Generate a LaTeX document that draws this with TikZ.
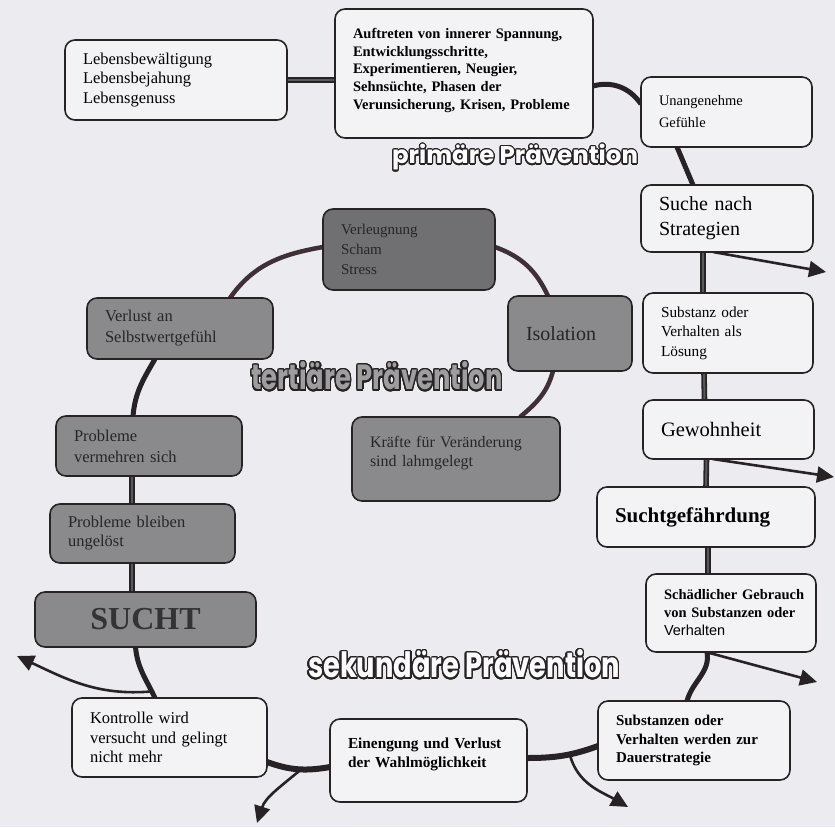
\documentclass[tikz,border=0pt]{standalone}
\usepackage{fontspec}
\setmainfont{Liberation Serif}
\newfontfamily\arialf{Liberation Sans}
\newfontfamily\labfont{Poppins}
\usepackage{contour}
\usetikzlibrary{arrows.meta,calc}
\definecolor{bg}{RGB}{236,236,240}
\definecolor{boxw}{RGB}{243,243,246}
\definecolor{lc}{RGB}{38,34,38}
\definecolor{rc}{RGB}{62,48,54}
\definecolor{gfill}{RGB}{138,138,140}
\definecolor{gdark}{RGB}{112,112,114}
\contourlength{1.2pt}
\contournumber{24}
\pgfdeclarelayer{bgl}\pgfdeclarelayer{back}\pgfsetlayers{bgl,back,main}
\tikzset{
 wbox/.style={draw=lc, line width=1.6pt, rounded corners=10pt, fill=boxw, inner sep=0pt, outer sep=0pt, align=left, text=black},
 gbox/.style={wbox, fill=gfill, text=black!85},
 conn/.style={draw=lc, line width=5pt},
 dconn/.style={draw=lc, line width=1.8pt, double=black!65, double distance=2pt},
 ring/.style={draw=rc, line width=4.5pt},
 arr/.style={draw=lc, line width=2.6pt, -{Triangle[length=17pt,width=16pt]}},
 lab/.style={inner sep=0pt},
}
\newcommand\mybox[7]{%
  \pgfmathsetmacro\bw{#4-#2}\pgfmathsetmacro\bh{#5-#3}\pgfmathsetmacro\tw{#4-#2-36}%
  \node[#6, minimum width=\bw pt, minimum height=\bh pt, text width=\tw pt] (#1) at ({(#2+#4)/2},{(#3+#5)/2}) {#7};}
\begin{document}
\begin{tikzpicture}[x=1pt,y=-1pt]
\useasboundingbox (0,0) rectangle (835,827);
\begin{pgfonlayer}{bgl}
\fill[bg] (0,0) rectangle (835,827);
\end{pgfonlayer}

% boxes
\mybox{c1}{65}{40}{287}{120}{wbox,font=\fontsize{16.5}{19.5}\selectfont}{\mbox{Lebensbewältigung}\\\mbox{Lebensbejahung}\\\mbox{Lebensgenuss}}
\mybox{c2}{335}{9}{593}{138}{wbox,font=\bfseries\fontsize{14.5}{17.7}\selectfont}{\mbox{Auftreten von innerer Spannung,}\\\mbox{Entwicklungsschritte,}\\\mbox{Experimentieren, Neugier,}\\\mbox{Sehnsüchte, Phasen der}\\\mbox{Verunsicherung, Krisen, Probleme}\\[-8pt]\mbox{}}
\mybox{c3}{641}{77}{812}{147}{wbox,font=\fontsize{14.5}{22}\selectfont}{\mbox{Unangenehme}\\\mbox{Gefühle}}
\mybox{c4}{641}{185}{813}{252}{wbox,font=\fontsize{20}{25}\selectfont}{\mbox{Suche nach}\\\mbox{Strategien}}
\mybox{c5}{643}{293}{813}{373}{wbox,font=\fontsize{15.3}{19.5}\selectfont}{\mbox{Substanz oder}\\\mbox{Verhalten als}\\\mbox{Lösung}}
\mybox{c6}{643}{400}{814}{459}{wbox,font=\fontsize{20.5}{24}\selectfont}{\mbox{Gewohnheit}}
\mybox{c7}{597}{487}{815}{547}{wbox,font=\bfseries\fontsize{21}{25}\selectfont}{\mbox{Suchtgefährdung}}
\mybox{c8}{646}{574}{816}{652}{wbox,font=\bfseries\fontsize{14.5}{18}\selectfont}{\mbox{Schädlicher Gebrauch}\\\mbox{von Substanzen oder}\\\mbox{\arialf\mdseries Verhalten}}
\mybox{c9}{598}{701}{790}{780}{wbox,font=\bfseries\fontsize{15}{18.5}\selectfont}{\mbox{Substanzen oder}\\\mbox{Verhalten werden zur}\\\mbox{Dauerstrategie}}
\mybox{c10}{330}{719}{527}{802}{wbox,font=\bfseries\fontsize{15.3}{19}\selectfont}{\mbox{Einengung und Verlust}\\\mbox{der Wahlmöglichkeit}\\[-4pt]\mbox{}}
\mybox{c11}{72}{698}{267}{777}{wbox,font=\fontsize{16.5}{19.5}\selectfont}{\mbox{Kontrolle wird}\\\mbox{versucht und gelingt}\\\mbox{nicht mehr}}
\mybox{c12}{35}{592}{256}{647}{gbox,align=center,text=black!80,font=\bfseries\fontsize{32}{36}\selectfont}{SUCHT}
\mybox{c13}{50}{504}{235}{563}{gbox,font=\fontsize{16.5}{19}\selectfont}{\mbox{Probleme bleiben}\\\mbox{ungelöst}}
\mybox{c14}{56}{416}{242}{476}{gbox,font=\fontsize{16.5}{21}\selectfont}{\mbox{Probleme}\\\mbox{vermehren sich}}
\mybox{c15}{87}{298}{273}{359}{gbox,font=\fontsize{16.5}{21}\selectfont}{\mbox{Verlust an}\\\mbox{Selbstwertgefühl}}
\mybox{c16}{323}{209}{495}{290}{gbox,fill=gdark,font=\fontsize{15}{20}\selectfont}{\mbox{Verleugnung}\\\mbox{Scham}\\\mbox{Stress}}
\mybox{c17}{508}{296}{632}{371}{gbox,font=\fontsize{20}{24}\selectfont}{\mbox{Isolation}}
\mybox{c18}{352}{417}{560}{501}{gbox,font=\fontsize{16}{19}\selectfont}{\mbox{Kräfte für Veränderung}\\\mbox{sind lahmgelegt}\\[-3pt]\mbox{}}

% arrow tips
\coordinate (t1) at (826,272);
\coordinate (t2) at (834,477);
\coordinate (t3) at (817,682);
\coordinate (t4) at (628,807);
\coordinate (t5) at (257,823);
\coordinate (t6) at (17,656);

\begin{pgfonlayer}{back}
\draw[dconn] (c1.east) -- (c1.east -| c2.west);
\draw[conn] ([yshift=-12.5pt]c2.east) to[out=15,in=125] ([yshift=8pt]c3.west);
\draw[conn] ([xshift=-49.5pt]c3.south) -- ([xshift=-34pt]c4.north);
\draw[dconn] ([xshift=-24pt]c4.south) -- ([xshift=-25pt]c5.north);
\draw[dconn] ([xshift=-24pt]c5.south) -- ([xshift=-24pt]c6.north);
\draw[dconn] ([xshift=-22pt]c6.south) -- (c7.north);
\draw[dconn] ([xshift=2pt]c7.south) -- ([xshift=-23pt]c8.north);
\draw[conn] ([xshift=-24pt]c8.south) to[out=-80,in=75] ([xshift=-7pt]c9.north);
\draw[conn,line width=6pt] ([yshift=2.5pt]c10.east) to[out=0,in=200] coordinate[pos=0.6] (j1) ([yshift=-5.5pt]c9.west);
\draw[conn,line width=6pt] ([yshift=-6.5pt]c10.west) to[out=190,in=-20] coordinate[pos=0.45] (j2) ([yshift=-24.5pt]c11.east);
\draw[conn] ([xshift=-14.5pt]c11.north) to[out=115,in=-85] coordinate[pos=0.12] (j3) ([xshift=-10pt]c12.south);
\draw[dconn] ([xshift=-13.5pt]c12.south) -- ([xshift=-10.5pt]c13.north);
\draw[dconn] ([xshift=-10.5pt]c13.north) -- ([xshift=-17pt]c14.south);
\draw[conn] ([xshift=-16pt]c14.north) to[out=85,in=-120] ([xshift=-25pt]c15.south);
\draw[ring] ([xshift=50pt]c15.north) to[out=55,in=190] ([yshift=2.5pt]c16.west);
\draw[ring] ([yshift=2.5pt]c16.east) to[out=-20,in=115] ([xshift=-22pt]c17.north);
\draw[ring] ([xshift=-17pt]c17.south) to[out=-105,in=40] ([xshift=64pt]c18.north);
\draw[arr] ([xshift=-14pt]c4.south) -- (t1);
\draw[arr] ([xshift=-16pt]c6.south) -- (t2);
\draw[arr] ([xshift=-25pt]c8.south) -- (t3);
\draw[arr] (j1) to[out=-75,in=150] (t4);
\draw[arr] (j2) to[out=-140,in=72] (t5);
\draw[arr] (j3) to[out=185,in=-25] (t6);
\end{pgfonlayer}

% labels
\node[lab] (prim) at (515,158) {\resizebox*{246pt}{27pt}{\labfont\bfseries\fontsize{24}{28}\selectfont\color{white}\contour{lc}{primäre Prävention}}};
\node[lab] (tert) at (377,377) {\resizebox*{251pt}{30pt}{\labfont\bfseries\fontsize{24}{28}\selectfont\color{black!38}\contour{lc}{tertiäre Prävention}}};
\node[lab] (sek) at (464,665) {\resizebox*{312pt}{30pt}{\labfont\bfseries\fontsize{24}{28}\selectfont\color{white}\contour{lc}{sekundäre Prävention}}};
\end{tikzpicture}
\end{document}
